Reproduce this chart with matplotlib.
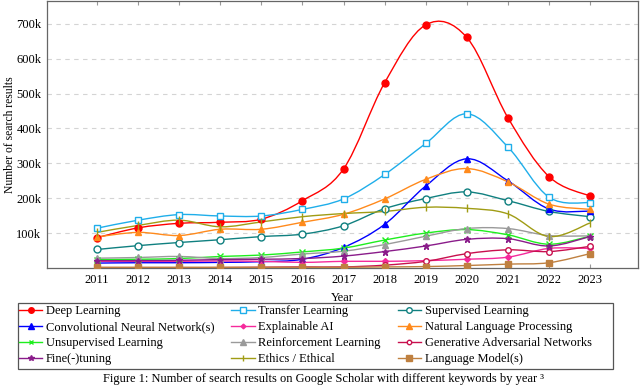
import matplotlib
matplotlib.use("Agg")
import matplotlib.pyplot as plt
import numpy as np
from matplotlib.lines import Line2D
from matplotlib.path import Path
from matplotlib.patches import PathPatch, Rectangle
from matplotlib.ticker import FuncFormatter

plt.rcParams['font.family'] = ['Liberation Serif', 'DejaVu Serif']
plt.rcParams['font.size'] = 9

years = [2011, 2012, 2013, 2014, 2015, 2016, 2017, 2018, 2019, 2020, 2021, 2022, 2023]

# search results in thousands
deep_learning = [87, 115, 128, 131, 140, 193, 284, 531, 697, 661, 431, 262, 206]
transfer_learning = [114, 137, 153, 149, 149, 168, 198, 268, 357, 442, 347, 203, 187]
supervised_learning = [53, 64, 73, 81, 90, 97, 121, 170, 199, 218, 193, 162, 147]
cnn = [14, 15, 15, 16, 18, 25, 59, 125, 235, 313, 250, 169, 163]
explainable_ai = [19, 19, 19, 20, 19, 16, 19, 19, 21, 25, 31, 56, 56]
nlp = [89, 102, 93, 111, 111, 131, 154, 198, 254, 285, 247, 183, 168]
unsupervised_learning = [24, 25, 27, 33, 37, 46, 57, 80, 100, 110, 95, 68, 91]
reinforcement_learning = [28, 30, 33, 27, 30, 40, 48, 67, 91, 113, 113, 93, 92]
gan = [0.5, 0.5, 0.5, 1, 2, 3, 3, 8, 19, 41, 52, 47, 62]
fine_tuning = [21, 21, 22, 24, 25, 27, 34, 47, 63, 82, 84, 63, 90]
ethics = [102, 122, 137, 118, 132, 147, 156, 162, 174, 171, 155, 90, 129]
language_models = [2, 2, 2, 2, 2, 2, 2, 3, 4, 7, 11, 15, 41]

labels = ['Deep Learning', 'Transfer Learning', 'Supervised Learning',
          'Convolutional Neural Network(s)', 'Explainable AI', 'Natural Language Processing',
          'Unsupervised Learning', 'Reinforcement Learning', 'Generative Adversarial Networks',
          'Fine(-)tuning', 'Ethics / Ethical', 'Language Model(s)']
series = [deep_learning, transfer_learning, supervised_learning,
          cnn, explainable_ai, nlp,
          unsupervised_learning, reinforcement_learning, gan,
          fine_tuning, ethics, language_models]
colors = ['#FF0000', '#1FAEEA', '#108080',
          '#0000FF', '#F52A9C', '#FF8A1C',
          '#1EEE1E', '#9A9A9A', '#C8104E',
          '#8A1C8A', '#A09C14', '#BF8040']
# (marker, filled)
markers = [('o', True), ('s', False), ('o', False),
           ('^', True), ('D', True), ('^', True),
           ('x', True), ('^', True), ('o', False),
           ('*', True), ('|', True), ('s', True)]
sizes = [5, 5, 5, 5, 3, 5, 4, 5, 4, 5, 6, 5]


def smooth_path(x, y, tension=0.17):
    # cubic bezier through the points, like tikz "smooth"
    pts = np.column_stack([x, y]).astype(float)
    verts = [pts[0]]
    codes = [Path.MOVETO]
    n = len(pts)
    for i in range(n - 1):
        p0 = pts[i - 1] if i > 0 else pts[i]
        p1, p2 = pts[i], pts[i + 1]
        p3 = pts[i + 2] if i + 2 < n else pts[i + 1]
        c1 = p1 + tension * (p2 - p0)
        c2 = p2 - tension * (p3 - p1)
        verts += [c1, c2, p2]
        codes += [Path.CURVE4] * 3
    return Path(verts, codes)


fig = plt.figure(figsize=(6.4, 3.85), dpi=100)
ax = fig.add_axes([0.0734, 0.304, 0.9236, 0.693])

handles = []
for vals, lab, col, (m, filled), ms in zip(series, labels, colors, markers, sizes):
    ax.add_patch(PathPatch(smooth_path(years, vals), fill=False, edgecolor=col, lw=1.0, zorder=3))
    fc = col if filled else 'white'
    ax.plot(years, vals, linestyle='none', marker=m, markersize=ms, color=col,
            markerfacecolor=fc, markeredgecolor=col, markeredgewidth=1.0, zorder=4)
    handles.append(Line2D([], [], color=col, lw=1.0, marker=m, markersize=ms * 0.8,
                          markerfacecolor=fc, markeredgecolor=col))

ax.set_xlim(2009.78, 2024.17)
ax.set_ylim(0, 765)
ax.set_xticks(years)
ax.set_yticks([100, 200, 300, 400, 500, 600, 700])
ax.yaxis.set_major_formatter(FuncFormatter(lambda v, p: '%dk' % v))
ax.grid(axis='y', linestyle=(0, (4, 4)), color='#d4d4d4', lw=0.8, zorder=0)
ax.tick_params(direction='in', top=True, right=False, length=3, color='#999999', pad=4)
ax.tick_params(axis='y', length=0)
for s in ax.spines.values():
    s.set_color('#666666')
    s.set_linewidth(0.9)

ax.set_xlabel('Year', labelpad=5)
ax.set_ylabel('Number of search results', fontsize=8.4)
ax.yaxis.set_label_coords(-0.052, 0.5)

# legend is filled column-wise, reorder so rows read like the original
order = [0, 3, 6, 9, 1, 4, 7, 10, 2, 5, 8, 11]
leg = fig.legend([handles[i] for i in order], [labels[i] for i in order],
                 ncol=3, loc='upper left', bbox_to_anchor=(0.030, 0.208),
                 frameon=False, handlelength=1.85, handletextpad=0.3, columnspacing=1.35,
                 labelspacing=0.32, borderpad=0.0, borderaxespad=0)

# legend box drawn separately (wider than the entries)
fig.patches.append(Rectangle((0.028, 0.041), 0.930, 0.172, transform=fig.transFigure,
                             fill=False, edgecolor='#555555', lw=0.9))

fig.text(0.505, 0.0, 'Figure 1: Number of search results on Google Scholar with different keywords by year \u00b3',
         ha='center', va='bottom', fontsize=9)

fig.savefig('out.png', dpi=100)
